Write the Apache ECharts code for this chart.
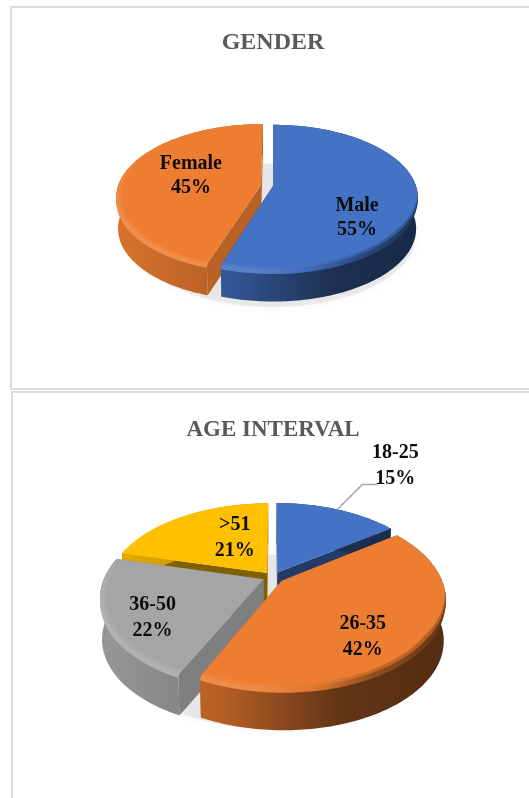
<!DOCTYPE html>
<html>
<head>
<meta charset="utf-8">
<style>html,body{margin:0;padding:0;background:#fff}#main{width:529px;height:798px}</style>
<script src="https://cdn.jsdelivr.net/npm/echarts@6/dist/echarts.min.js"></script>
</head>
<body>
<div id="main"></div>
<script>
// Survey composition values
const genderLabels = ['Male', 'Female'];
const genderValues = [55, 45];
const ageLabels = ['18-25', '26-35', '36-50', '>51'];
const ageValues = [15, 42, 22, 21];

// Slice colours
const genderColors = ['#4472c4', '#ed7d31'];
const ageColors = ['#4472c4', '#ed7d31', '#a5a5a5', '#ffc000'];

// Disc geometry: centre, horizontal/vertical scale, perspective and wall height
const genderPie = {
  labels: genderLabels, values: genderValues, colors: genderColors,
  cx: 273, cy: 186, A: 143, S: 71, p: 0.16, depth: 31,
  explode: [0, 0.085], order: [1, 0],
  nudge: [[-2, 25], [13, -2.5]], labelR: [0.6, 0.6], lineHeight: 24
};
const agePie = {
  labels: ageLabels, values: ageValues, colors: ageColors,
  cx: 273, cy: 577, A: 159, S: 85, p: 0.2, depth: 41,
  explode: [0.06, 0.07, 0.065, 0.06], order: [0, 3, 2, 1],
  nudge: [[58, -43.5], [0, 20], [-19, 15], [20, 1]], labelR: [1, 0.6, 0.6, 0.6], lineHeight: 26,
  leader: { index: 0, bend: [25, -25], end: [40, -25] }
};

function shade(hex, f) {
  const n = parseInt(hex.slice(1), 16);
  const c = [n >> 16 & 255, n >> 8 & 255, n & 255].map(v =>
    Math.round(f <= 1 ? v * f : v + (255 - v) * (f - 1)));
  return 'rgb(' + c.join(',') + ')';
}

function project(pie, U, V) {
  const w = 1 + pie.p * V;
  return [pie.cx + pie.A * U / w, pie.cy - pie.S * V / w];
}

function drop(pie, pt, d) {
  const k = 1 - 0.012 * d / pie.depth;
  return [pie.cx + (pt[0] - pie.cx) * k, pt[1] + d];
}

function sliceAngles(pie) {
  const total = pie.values.reduce((a, b) => a + b, 0);
  let acc = 0;
  return pie.values.map(v => {
    const a0 = acc / total * Math.PI * 2;
    acc += v;
    return [a0, acc / total * Math.PI * 2];
  });
}

function arc(pie, a0, a1, r, offU, offV) {
  const pts = [];
  const n = Math.max(2, Math.ceil((a1 - a0) / 0.02));
  for (let i = 0; i <= n; i++) {
    const a = a0 + (a1 - a0) * i / n;
    const rr = typeof r === 'function' ? r(a) : r;
    pts.push(project(pie, rr * Math.sin(a) + offU, rr * Math.cos(a) + offV));
  }
  return pts;
}

function hGradient(pie, color, stops) {
  const x0 = pie.cx - pie.A * 1.03, x1 = pie.cx + pie.A * 1.03;
  return new echarts.graphic.LinearGradient(x0, 0, x1, 0,
    stops.map(s => ({ offset: s[0], color: shade(color, s[1]) })), true);
}

function poly(points, style, z2) {
  return { type: 'polygon', shape: { points }, style, z2, silent: true };
}

const BEVEL_FROM = 95 * Math.PI / 180;
const BEVEL_TO = 300 * Math.PI / 180;

// Bevel thickness swells towards the front of the disc and vanishes at both ends
function bevelWeight(a) {
  const t = (a - BEVEL_FROM) / (BEVEL_TO - BEVEL_FROM);
  return Math.min(1, Math.sin(Math.PI * Math.max(0, Math.min(1, t))) * 2.2);
}

function renderSlice(pie, idx, drawPos) {
  const angles = sliceAngles(pie);
  const [a0, a1] = angles[idx];
  const mid = (a0 + a1) / 2;
  const e = pie.explode[idx];
  const offU = e * Math.sin(mid), offV = e * Math.cos(mid);
  const color = pie.colors[idx];
  const base = drawPos * 10;
  const kids = [];
  const D = pie.depth;

  // Soft ground shadow under the whole disc
  if (drawPos === 0) {
    const all = arc(pie, 0, Math.PI * 2, 0.985, 0, 0).map(p => [p[0], p[1] + D + 7]);
    kids.push(poly(all, {
      fill: 'rgba(150,150,150,0.16)', shadowBlur: 8, shadowColor: 'rgba(110,110,110,0.4)'
    }, 0));
  }

  const apex = project(pie, offU, offV);
  const rim = arc(pie, a0, a1, 1, offU, offV);
  const wallColor = shade(color, color === '#ffc000' ? 0.5 : color === '#a5a5a5' ? 0.77 : color === '#ed7d31' ? 0.78 : 0.52);

  // Cut faces along both radial edges
  [rim[0], rim[rim.length - 1]].forEach(p => {
    kids.push(poly([apex, p, drop(pie, p, D), drop(pie, apex, D)], { fill: wallColor }, base + 1));
  });

  // Curved outer wall
  const lower = rim.map(p => drop(pie, p, D)).reverse();
  kids.push(poly(rim.concat(lower), {
    fill: hGradient(pie, color, [[0, 0.9], [0.35, 0.76], [0.7, 0.42], [1, 0.36]])
  }, base + 2));

  // Top face
  kids.push(poly([apex].concat(rim), { fill: color }, base + 3));

  // Bevel along the front of the rim
  const f0 = Math.max(a0, BEVEL_FROM), f1 = Math.min(a1, BEVEL_TO);
  if (f1 > f0) {
    const bevelStops = [[0, 1.14], [0.45, 1.1], [0.62, 0.95], [0.8, 0.62], [1, 0.45]];
    const edge = arc(pie, f0, f1, 1, offU, offV);
    const outer = edge.map((p, i) => {
      const a = f0 + (f1 - f0) * i / (edge.length - 1);
      return [p[0], p[1] + 3.5 * bevelWeight(a)];
    });
    const inner = arc(pie, f0, f1, a => 1 - 0.014 * bevelWeight(a), offU, offV);
    kids.push(poly(outer.concat(inner.slice().reverse()), { fill: hGradient(pie, color, bevelStops) }, base + 4));
    const softIn = arc(pie, f0, f1, a => 1 - 0.035 * bevelWeight(a), offU, offV).reverse();
    kids.push(poly(inner.concat(softIn), { fill: hGradient(pie, color, bevelStops), opacity: 0.45 }, base + 4));
  }

  // Value label
  const r = pie.labelR[idx];
  const anchor = project(pie, r * Math.sin(mid) + offU, r * Math.cos(mid) + offV);
  const [nx, ny] = pie.nudge[idx];
  kids.push({
    type: 'text', z2: 200, silent: true,
    style: {
      x: anchor[0] + nx, y: anchor[1] + ny,
      text: pie.labels[idx] + '\n' + pie.values[idx] + '%',
      font: 'bold 20px "Liberation Serif"', fill: '#0d0d0d',
      align: 'center', verticalAlign: 'middle', lineHeight: pie.lineHeight
    }
  });

  if (pie.leader && pie.leader.index === idx) {
    kids.push({
      type: 'polyline', z2: 190, silent: true,
      shape: { points: [anchor,
        [anchor[0] + pie.leader.bend[0], anchor[1] + pie.leader.bend[1]],
        [anchor[0] + pie.leader.end[0], anchor[1] + pie.leader.end[1]]] },
      style: { stroke: '#a6a6a6', lineWidth: 1.5, fill: 'none' }
    });
  }
  return { type: 'group', children: kids };
}

function pieSeries(pie) {
  return {
    type: 'custom',
    coordinateSystem: 'none',
    animation: false,
    silent: true,
    data: pie.order.map(i => [i, pie.values[i]]),
    renderItem: (params, api) => renderSlice(pie, api.value(0), params.dataIndex)
  };
}

const chart = echarts.init(document.getElementById('main'), null, { renderer: 'canvas' });
chart.setOption({
  backgroundColor: '#ffffff',
  animation: false,
  title: [
    { text: 'GENDER', left: 268, top: 26, textAlign: 'center',
      textStyle: { fontFamily: 'Liberation Serif', fontWeight: 'bold', fontSize: 24, color: '#595959' } },
    { text: 'AGE INTERVAL', left: 268, top: 414, textAlign: 'center',
      textStyle: { fontFamily: 'Liberation Serif', fontWeight: 'bold', fontSize: 23, color: '#595959' } }
  ],
  graphic: [
    { type: 'rect', shape: { x: 11, y: 7, width: 540, height: 382 }, style: { fill: 'none', stroke: '#dcdcdc', lineWidth: 2 }, silent: true },
    { type: 'rect', shape: { x: 12, y: 392, width: 540, height: 430 }, style: { fill: 'none', stroke: '#dcdcdc', lineWidth: 2 }, silent: true }
  ],
  series: [pieSeries(genderPie), pieSeries(agePie)]
});
</script>
</body>
</html>
